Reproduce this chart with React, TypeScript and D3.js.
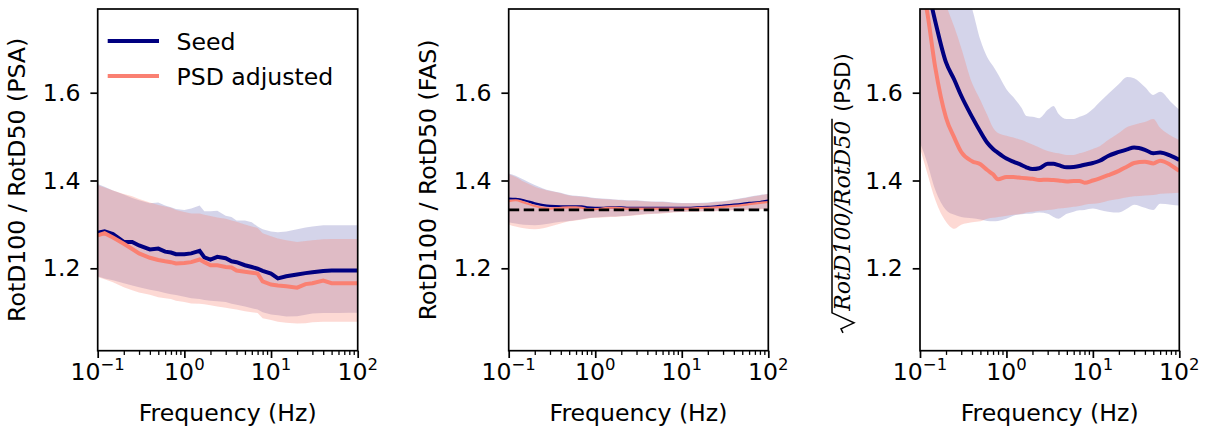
import { useRef, useEffect } from "react";
import * as d3 from "d3";

const freq = [0.1, 0.12, 0.15, 0.2, 0.25, 0.3, 0.4, 0.5, 0.6, 0.7, 0.8, 1.0, 1.2, 1.5, 1.7, 2.0, 2.4, 3.0, 3.5, 4, 5, 6, 7, 8, 10, 12, 15, 20, 25, 30, 40, 50, 60, 80, 100];

// PSA panel
const psaSeed = [1.281, 1.284, 1.278, 1.26, 1.26, 1.252, 1.243, 1.245, 1.238, 1.236, 1.232, 1.232, 1.234, 1.24, 1.225, 1.22, 1.226, 1.223, 1.216, 1.214, 1.207, 1.203, 1.199, 1.194, 1.188, 1.177, 1.182, 1.186, 1.189, 1.191, 1.194, 1.195, 1.195, 1.195, 1.195];
const psaSeedHi = [1.392, 1.386, 1.377, 1.368, 1.36, 1.355, 1.348, 1.35, 1.343, 1.339, 1.335, 1.333, 1.336, 1.343, 1.33, 1.33, 1.331, 1.32, 1.317, 1.309, 1.309, 1.305, 1.295, 1.289, 1.284, 1.282, 1.284, 1.289, 1.293, 1.295, 1.298, 1.298, 1.298, 1.298, 1.298];
const psaSeedLo = [1.182, 1.177, 1.173, 1.166, 1.161, 1.157, 1.151, 1.148, 1.144, 1.141, 1.139, 1.135, 1.132, 1.13, 1.128, 1.126, 1.125, 1.123, 1.119, 1.117, 1.113, 1.109, 1.106, 1.1, 1.095, 1.093, 1.09, 1.091, 1.094, 1.097, 1.098, 1.098, 1.098, 1.099, 1.099];
const psaAdj = [1.275, 1.28, 1.27, 1.256, 1.244, 1.234, 1.224, 1.219, 1.216, 1.214, 1.211, 1.212, 1.214, 1.22, 1.214, 1.207, 1.207, 1.203, 1.202, 1.195, 1.192, 1.19, 1.188, 1.17, 1.163, 1.161, 1.159, 1.156, 1.164, 1.166, 1.172, 1.166, 1.166, 1.166, 1.166];
const psaAdjHi = [1.389, 1.384, 1.377, 1.369, 1.364, 1.358, 1.35, 1.344, 1.341, 1.338, 1.333, 1.328, 1.325, 1.325, 1.322, 1.319, 1.316, 1.313, 1.309, 1.306, 1.3, 1.295, 1.292, 1.28, 1.273, 1.268, 1.264, 1.26, 1.262, 1.264, 1.266, 1.267, 1.267, 1.267, 1.267];
const psaAdjLo = [1.18, 1.175, 1.168, 1.157, 1.15, 1.145, 1.14, 1.134, 1.132, 1.13, 1.126, 1.123, 1.12, 1.119, 1.118, 1.116, 1.113, 1.11, 1.108, 1.106, 1.102, 1.1, 1.098, 1.086, 1.082, 1.078, 1.076, 1.074, 1.075, 1.077, 1.078, 1.078, 1.078, 1.078, 1.078];

// FAS panel
const fasSeed = [1.359, 1.358, 1.355, 1.348, 1.344, 1.342, 1.341, 1.341, 1.341, 1.341, 1.339, 1.338, 1.338, 1.339, 1.339, 1.339, 1.338, 1.338, 1.338, 1.338, 1.338, 1.338, 1.338, 1.338, 1.338, 1.338, 1.339, 1.34, 1.341, 1.343, 1.345, 1.347, 1.349, 1.351, 1.354];
const fasSeedHi = [1.416, 1.411, 1.402, 1.39, 1.382, 1.377, 1.372, 1.367, 1.365, 1.364, 1.363, 1.36, 1.359, 1.358, 1.357, 1.356, 1.355, 1.355, 1.354, 1.353, 1.352, 1.352, 1.351, 1.35, 1.349, 1.349, 1.349, 1.35, 1.352, 1.353, 1.357, 1.36, 1.363, 1.367, 1.37];
const fasSeedLo = [1.305, 1.302, 1.299, 1.298, 1.3, 1.302, 1.306, 1.308, 1.31, 1.312, 1.314, 1.316, 1.317, 1.318, 1.318, 1.319, 1.32, 1.322, 1.323, 1.324, 1.325, 1.326, 1.327, 1.328, 1.329, 1.33, 1.33, 1.331, 1.331, 1.332, 1.333, 1.333, 1.334, 1.335, 1.336];
const fasAdj = [1.353, 1.355, 1.35, 1.342, 1.338, 1.336, 1.338, 1.339, 1.339, 1.338, 1.335, 1.335, 1.336, 1.338, 1.338, 1.337, 1.336, 1.336, 1.336, 1.336, 1.336, 1.336, 1.336, 1.336, 1.336, 1.336, 1.337, 1.338, 1.339, 1.34, 1.342, 1.344, 1.346, 1.349, 1.351];
const fasAdjHi = [1.414, 1.408, 1.397, 1.386, 1.38, 1.376, 1.371, 1.366, 1.364, 1.363, 1.362, 1.359, 1.358, 1.357, 1.356, 1.355, 1.354, 1.354, 1.353, 1.352, 1.351, 1.351, 1.35, 1.349, 1.348, 1.348, 1.348, 1.349, 1.351, 1.352, 1.356, 1.359, 1.362, 1.366, 1.369];
const fasAdjLo = [1.3, 1.295, 1.291, 1.289, 1.291, 1.295, 1.302, 1.307, 1.309, 1.311, 1.313, 1.315, 1.316, 1.317, 1.317, 1.318, 1.319, 1.321, 1.322, 1.323, 1.324, 1.325, 1.326, 1.327, 1.328, 1.329, 1.329, 1.33, 1.33, 1.331, 1.332, 1.332, 1.333, 1.334, 1.335];
const fasReference = 1.3333;

// PSD panel
const psdSeed = [1.9, 1.845, 1.763, 1.669, 1.629, 1.593, 1.545, 1.511, 1.486, 1.472, 1.463, 1.45, 1.443, 1.435, 1.43, 1.426, 1.428, 1.438, 1.438, 1.435, 1.43, 1.431, 1.433, 1.436, 1.44, 1.445, 1.456, 1.465, 1.471, 1.475, 1.47, 1.462, 1.464, 1.456, 1.447];
const psdSeedHi = [2.04, 1.98, 1.95, 1.92, 1.89, 1.86, 1.792, 1.72, 1.681, 1.661, 1.642, 1.608, 1.59, 1.565, 1.547, 1.545, 1.542, 1.561, 1.57, 1.552, 1.54, 1.54, 1.545, 1.549, 1.563, 1.579, 1.597, 1.62, 1.636, 1.633, 1.613, 1.595, 1.602, 1.579, 1.561];
const psdSeedLo = [1.486, 1.443, 1.379, 1.333, 1.322, 1.317, 1.314, 1.311, 1.308, 1.307, 1.308, 1.313, 1.32, 1.323, 1.324, 1.325, 1.327, 1.324, 1.317, 1.313, 1.324, 1.329, 1.332, 1.333, 1.336, 1.333, 1.329, 1.327, 1.336, 1.345, 1.338, 1.333, 1.347, 1.345, 1.343];
const psdAdj = [1.856, 1.788, 1.658, 1.543, 1.497, 1.465, 1.444, 1.437, 1.424, 1.414, 1.403, 1.408, 1.408, 1.406, 1.405, 1.404, 1.401, 1.402, 1.401, 1.4, 1.398, 1.399, 1.399, 1.395, 1.4, 1.405, 1.412, 1.422, 1.432, 1.44, 1.443, 1.439, 1.445, 1.435, 1.422];
const psdAdjHi = [1.95, 1.92, 1.88, 1.8, 1.749, 1.702, 1.622, 1.583, 1.549, 1.52, 1.508, 1.502, 1.498, 1.492, 1.488, 1.482, 1.475, 1.467, 1.464, 1.462, 1.458, 1.458, 1.462, 1.465, 1.472, 1.478, 1.492, 1.508, 1.522, 1.527, 1.533, 1.54, 1.52, 1.502, 1.492];
const psdAdjLo = [1.474, 1.42, 1.356, 1.306, 1.29, 1.299, 1.305, 1.307, 1.313, 1.315, 1.317, 1.32, 1.322, 1.324, 1.327, 1.329, 1.331, 1.333, 1.334, 1.336, 1.338, 1.34, 1.342, 1.345, 1.347, 1.349, 1.354, 1.358, 1.362, 1.364, 1.366, 1.367, 1.37, 1.371, 1.372];

const seriesNames = ["Seed", "PSD adjusted"];
const yTicks = [1.2, 1.4, 1.6];
const xTicks = [0.1, 1, 10, 100];
const xTickExp = ["\u22121", "0", "1", "2"];

const NAVY = "#000080";
const SALMON = "#fa8072";
const FONT = "DejaVu Sans";
const FS = 23.6;

const App = () => {
  const svgRef = useRef<SVGSVGElement>(null);

  useEffect(() => {
    const svg = d3.select(svgRef.current);
    svg.selectAll("*").remove();

    const top = 9;
    const bottom = 350.7;
    const y = d3.scaleLinear().domain([1.0123, 1.7907]).range([bottom, top]);

    const panels = [
      { x0: 97.7, x1: 357.7, seed: [psaSeedLo, psaSeed, psaSeedHi], adj: [psaAdjLo, psaAdj, psaAdjHi], lw: 4, label: "RotD100 / RotD50 (PSA)", curve: d3.curveLinear },
      { x0: 508.7, x1: 768.3, seed: [fasSeedLo, fasSeed, fasSeedHi], adj: [fasAdjLo, fasAdj, fasAdjHi], lw: 2.2, label: "RotD100 / RotD50 (FAS)", curve: d3.curveMonotoneX },
      { x0: 920, x1: 1179.3, seed: [psdSeedLo, psdSeed, psdSeedHi], adj: [psdAdjLo, psdAdj, psdAdjHi], lw: 4, label: null, curve: d3.curveMonotoneX },
    ];

    // log minor tick positions
    const minor: number[] = [];
    [0.1, 1, 10].forEach((d) => d3.range(2, 10).forEach((k) => minor.push(d * k)));

    panels.forEach((p, i) => {
      const x = d3.scaleLog().domain([0.1, 100]).range([p.x0, p.x1]);
      const g = svg.append("g");

      g.append("clipPath")
        .attr("id", `clip${i}`)
        .append("rect")
        .attr("x", p.x0)
        .attr("y", top)
        .attr("width", p.x1 - p.x0)
        .attr("height", bottom - top);
      const plot = g.append("g").attr("clip-path", `url(#clip${i})`);

      const band = (lo: number[], hi: number[]) =>
        d3
          .area<number>()
          .x((d) => x(d))
          .y0((d, j) => y(lo[j]))
          .y1((d, j) => y(hi[j]))
          .curve(p.curve)(freq);
      const line = (v: number[]) =>
        d3
          .line<number>()
          .x((d) => x(d))
          .y((d, j) => y(v[j]))
          .curve(p.curve)(freq);

      plot.append("path").attr("d", band(p.seed[0], p.seed[2])).attr("fill", NAVY).attr("fill-opacity", 0.17);
      plot.append("path").attr("d", band(p.adj[0], p.adj[2])).attr("fill", SALMON).attr("fill-opacity", 0.3);
      plot.append("path").attr("d", line(p.seed[1])).attr("fill", "none").attr("stroke", NAVY).attr("stroke-width", p.lw);
      plot.append("path").attr("d", line(p.adj[1])).attr("fill", "none").attr("stroke", SALMON).attr("stroke-width", p.lw);

      if (i === 1) {
        plot
          .append("line")
          .attr("x1", x(0.1))
          .attr("x2", x(100))
          .attr("y1", y(fasReference))
          .attr("y2", y(fasReference))
          .attr("stroke", "#000")
          .attr("stroke-width", 2.8)
          .attr("stroke-dasharray", "10.5,4.5");
      }

      // y axis
      const yAxis = g
        .append("g")
        .attr("transform", `translate(${p.x0},0)`)
        .call(d3.axisLeft(y).tickValues(yTicks).tickSize(7.3).tickPadding(10).tickFormat(d3.format(".1f")));
      yAxis.select(".domain").remove();
      yAxis.selectAll("line").attr("stroke-width", 1.7);
      yAxis.selectAll("text").attr("font-size", FS).attr("font-family", FONT).attr("fill", "#000");

      // x axis
      const xMinor = g
        .append("g")
        .attr("transform", `translate(0,${bottom})`)
        .call(d3.axisBottom(x).tickValues(minor).tickSize(4.2).tickFormat(() => ""));
      xMinor.select(".domain").remove();
      xMinor.selectAll("line").attr("stroke-width", 1.3);

      const xAxis = g
        .append("g")
        .attr("transform", `translate(0,${bottom})`)
        .call(d3.axisBottom(x).tickValues(xTicks).tickSize(7.3).tickFormat(() => ""));
      xAxis.select(".domain").remove();
      xAxis.selectAll("line").attr("stroke-width", 1.7);

      xTicks.forEach((t, k) => {
        const txt = g
          .append("text")
          .attr("x", x(t))
          .attr("y", bottom + 29.5)
          .attr("text-anchor", "middle")
          .attr("font-family", FONT)
          .attr("font-size", FS);
        txt.append("tspan").text("10");
        txt.append("tspan").attr("dy", -10).attr("font-size", 16.5).text(xTickExp[k]);
      });

      g.append("text")
        .attr("x", (p.x0 + p.x1) / 2)
        .attr("y", 420.5)
        .attr("text-anchor", "middle")
        .attr("font-family", FONT)
        .attr("font-size", FS)
        .text("Frequency (Hz)");

      // frame
      g.append("rect")
        .attr("x", p.x0)
        .attr("y", top)
        .attr("width", p.x1 - p.x0)
        .attr("height", bottom - top)
        .attr("fill", "none")
        .attr("stroke", "#000")
        .attr("stroke-width", 1.7);

      // y label
      if (p.label) {
        g.append("text")
          .attr("transform", `translate(${p.x0 - 73},${(top + bottom) / 2}) rotate(-90)`)
          .attr("text-anchor", "middle")
          .attr("font-family", FONT)
          .attr("font-size", FS)
          .text(p.label);
      } else {
        const lab = g.append("g").attr("transform", `translate(${p.x0 - 70},${(top + bottom) / 2}) rotate(-90)`);
        const s = -153;
        const it = lab
          .append("text")
          .attr("x", s + 22)
          .attr("y", 0)
          .attr("font-family", "DejaVu Serif")
          .attr("font-style", "italic")
          .attr("font-size", 22)
          .text("RotD100/RotD50");
        const itW = (it.node() as SVGTextElement).getComputedTextLength();
        lab.append("path")
          .attr("d", `M${s},-7 L${s + 4},-9 L${s + 10},4 L${s + 20},-18 L${s + 24 + itW},-18`)
          .attr("fill", "none")
          .attr("stroke", "#000")
          .attr("stroke-width", 1.5);
        lab.append("text")
          .attr("x", s + 31 + itW)
          .attr("y", 0)
          .attr("font-family", FONT)
          .attr("font-size", 21)
          .text("(PSD)");
      }

      // legend in first panel
      if (i === 0) {
        [NAVY, SALMON].forEach((c, k) => {
          const ly = 41 + k * 35;
          g.append("line").attr("x1", 107.7).attr("x2", 159).attr("y1", ly).attr("y2", ly).attr("stroke", c).attr("stroke-width", 4);
          g.append("text")
            .attr("x", 176.5)
            .attr("y", ly + 8.5)
            .attr("font-family", FONT)
            .attr("font-size", FS)
            .text(seriesNames[k]);
        });
      }
    });
  }, []);

  return <svg ref={svgRef} width={1206} height={433} style={{ position: "absolute", left: 0, top: 0, background: "#fff" }}></svg>;
};

export default App;
